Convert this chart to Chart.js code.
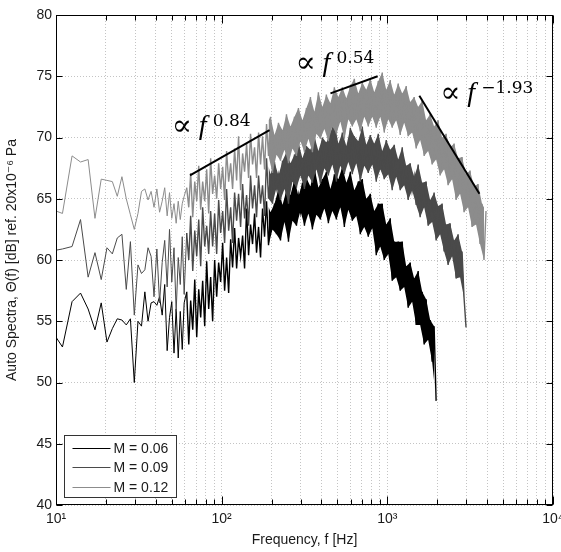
<!DOCTYPE html>
<html>
<head>
<meta charset="utf-8">
<script src="https://cdn.jsdelivr.net/npm/chart.js@4.4.1/dist/chart.umd.min.js"></script>
<style>
  html, body { margin: 0; padding: 0; background: #fff; }
</style>
</head>
<body>
<canvas id="spectraChart" width="561" height="552"></canvas>
<script>
/* global Chart */
// frequencies (Hz) of the low band, where single points are visible
const freqLow = [10, 10.94, 12.5, 14.06, 15.63, 17.19, 18.75, 20.31, 21.88, 23.44, 25.0, 26.56, 28.13, 29.69, 31.25, 32.81, 34.38,
  35.94, 37.5, 39.06, 40.63, 42.19, 43.75, 45.31, 46.88, 48.44, 50.0, 51.56, 53.13, 54.69, 56.25, 57.81, 59.38]
// frequencies (Hz) of the dense band above 60 Hz
const freqHigh = [61.5, 63.3, 65.0, 66.9, 68.8, 70.7, 72.7, 74.7, 76.8, 79.0,
  81.2, 83.5, 85.8, 88.2, 90.7, 93.3, 95.9, 98.6, 101.4, 104.2,
  107.1, 110.2, 113.3, 116.4, 119.7, 123.1, 126.5, 130.1, 133.8, 137.5,
  141.4, 145.4, 149.4, 153.6, 158.0, 162.4, 167.0, 171.7, 176.5, 181.5,
  186.6, 191.8, 197.2, 202.7, 208.4, 214.3, 220.3, 226.5, 232.9, 239.4,
  246.2, 253.1, 260.2, 267.5, 275.1, 282.8, 290.7, 298.9, 307.3, 316.0,
  324.8, 334.0, 343.4, 353.0, 362.9, 373.2, 383.6, 394.4, 405.5, 416.9,
  428.6, 440.7, 453.1, 465.8, 478.9, 492.4, 506.2, 520.5, 535.1, 550.2,
  565.6, 581.5, 597.9, 614.7, 632.0, 649.8, 668.0, 686.8, 706.1, 726.0,
  746.4, 767.4, 789.0, 811.1, 834.0, 857.4, 881.5, 906.3, 931.8, 958.0,
  984.9, 1013, 1041, 1070, 1101, 1131, 1163, 1196, 1230, 1264,
  1300, 1336, 1374, 1412, 1452, 1493, 1535, 1578, 1623, 1668,
  1715, 1763, 1813, 1864, 1916, 1970, 2026, 2083, 2141, 2201,
  2263, 2327, 2392, 2460, 2529, 2600, 2673, 2748, 2825, 2905,
  2986, 3070, 3157, 3246, 3337, 3431, 3527, 3626, 3728, 3833,
  3941]

// M = 0.06 (dB)
const m006Low = [53.7, 52.9, 56.6, 57.3, 56.0, 54.3, 56.5, 53.3, 54.4, 55.2, 55.1, 54.7, 55.2, 50.0, 55.0, 54.6, 57.4,
  55.0, 56.5, 56.6, 56.3, 57.0, 55.5, 58.0, 52.6, 55.3, 56.6, 52.4, 56.0, 52.0, 55.8, 52.7, 56.5]
const m006High = [57.4, 53.1, 56.7, 54.3, 58.4, 53.7, 57.6, 55.3, 58.3, 54.6,
  59.9, 56.0, 58.6, 55.0, 60.0, 57.0, 59.8, 58.2, 61.4, 57.5,
  60.2, 57.3, 61.7, 59.4, 62.6, 59.3, 61.8, 60.3, 62.0, 59.3,
  64.2, 60.4, 62.9, 61.3, 63.8, 60.6, 62.7, 60.2, 64.2, 61.9,
  64.8, 61.2, 63.9, 62.5, 64.6, 62.1, 65.8, 61.6, 64.5, 63.1,
  65.7, 61.5, 65.3, 63.2, 66.6, 62.8, 65.2, 64.0, 66.3, 62.8,
  66.7, 63.8, 66.0, 62.5, 67.6, 63.7, 65.9, 63.3, 66.6, 64.2,
  67.2, 63.0, 65.8, 64.0, 67.0, 63.3, 66.6, 64.3, 67.6, 62.7,
  66.3, 64.1, 67.2, 63.2, 65.7, 63.6, 66.4, 62.1, 66.6, 62.7,
  65.0, 61.9, 65.4, 62.6, 64.0, 60.4, 64.6, 61.1, 64.6, 60.0,
  62.9, 60.5, 63.4, 58.3, 61.5, 58.6, 61.5, 57.5, 61.5, 57.8,
  59.5, 56.1, 59.8, 56.6, 58.5, 54.7, 59.1, 54.7, 57.4, 53.1,
  56.8, 53.5, 55.1, 51.7, 54.6, 48.5]

// M = 0.09 (dB)
const m009Low = [60.8, 60.9, 61.1, 63.3, 58.6, 60.6, 58.4, 61.0, 60.5, 61.8, 62.1, 57.6, 61.5, 55.5, 59.6, 58.9, 59.2,
  61.0, 60.3, 57.0, 60.9, 56.5, 59.8, 61.6, 57.8, 62.5, 58.2, 61.0, 55.8, 60.2, 58.0, 61.9, 57.2]
const m009High = [62.2, 60.0, 63.6, 59.1, 62.4, 60.3, 63.3, 59.5, 64.3, 61.1,
  62.8, 60.5, 64.0, 61.1, 63.8, 60.5, 64.9, 62.2, 64.0, 61.4,
  65.8, 62.4, 64.3, 61.4, 65.5, 63.2, 65.4, 62.7, 66.2, 63.4,
  65.3, 62.8, 66.9, 64.2, 66.1, 63.5, 66.9, 64.6, 66.1, 63.6,
  68.3, 65.0, 67.0, 64.6, 68.0, 65.9, 66.9, 64.9, 68.1, 65.8,
  68.8, 64.6, 67.9, 66.4, 68.6, 65.9, 69.6, 66.9, 68.3, 65.8,
  69.3, 66.9, 69.0, 66.3, 70.1, 67.4, 68.9, 66.2, 70.0, 67.5,
  69.6, 66.9, 70.4, 67.8, 71.3, 66.4, 69.5, 67.7, 70.4, 67.0,
  69.3, 68.0, 70.8, 67.0, 70.1, 67.9, 69.7, 66.4, 70.9, 67.7,
  69.4, 67.1, 70.2, 67.8, 69.5, 66.4, 70.3, 67.4, 68.9, 66.6,
  69.8, 67.0, 69.0, 65.7, 69.4, 66.8, 68.2, 65.7, 69.2, 66.1,
  67.7, 64.9, 67.9, 65.7, 66.8, 64.5, 67.8, 63.5, 66.3, 64.3,
  66.4, 62.8, 64.9, 63.1, 65.5, 61.6, 64.4, 62.1, 64.6, 60.7,
  62.9, 59.6, 63.0, 60.3, 61.6, 58.5, 62.1, 58.6, 60.7, 56.9,
  54.5]

// M = 0.12 (dB)
const m012Low = [64.0, 63.8, 68.5, 68.0, 68.2, 63.4, 66.6, 66.5, 66.4, 65.2, 66.8, 65.0, 63.7, 62.5, 63.8, 65.6, 65.8,
  64.9, 65.6, 64.3, 65.8, 63.9, 64.8, 65.9, 63.6, 65.5, 63.4, 64.6, 63.0, 64.8, 63.3, 64.6, 65.2]
const m012High = [65.9, 64.3, 67.1, 63.5, 66.4, 64.8, 67.7, 64.1, 66.4, 64.8,
  67.4, 63.8, 68.3, 65.4, 66.9, 65.0, 67.9, 65.8, 67.6, 64.9,
  68.9, 66.4, 67.9, 65.8, 69.1, 66.5, 70.1, 65.7, 68.7, 67.2,
  69.5, 66.7, 70.3, 67.8, 69.2, 66.7, 70.4, 67.8, 70.1, 67.4,
  71.1, 68.5, 71.7, 67.1, 70.2, 68.6, 71.2, 68.1, 70.6, 69.0,
  71.9, 67.9, 70.9, 69.1, 71.7, 68.5, 72.4, 69.7, 71.4, 68.8,
  72.4, 69.9, 73.3, 68.8, 72.1, 70.3, 73.7, 69.9, 72.5, 70.7,
  73.5, 69.7, 72.8, 70.9, 74.1, 70.3, 73.3, 71.3, 74.1, 69.9,
  73.2, 71.5, 74.2, 70.9, 74.8, 71.5, 73.6, 70.5, 74.5, 71.7,
  73.9, 70.9, 74.8, 71.7, 73.7, 70.8, 74.6, 71.7, 75.3, 70.4,
  73.9, 71.5, 74.7, 70.8, 73.5, 71.4, 74.4, 70.2, 73.6, 71.2,
  74.2, 70.1, 72.9, 70.4, 73.3, 69.1, 72.5, 69.8, 73.0, 68.5,
  71.4, 68.9, 71.9, 67.8, 70.9, 68.2, 71.4, 66.9, 70.0, 67.4,
  70.3, 66.1, 69.2, 66.6, 69.5, 64.9, 68.3, 65.4, 68.4, 63.9,
  67.0, 64.3, 67.3, 62.7, 66.0, 62.9, 66.2, 61.3, 64.6, 60.0,
  64.0]

const seriesLabels = ['M = 0.06', 'M = 0.09', 'M = 0.12']
const seriesColors = ['#000000', '#4a4a4a', '#8c8c8c']
// first index of freqHigh from which the noise band is drawn solid
const bandStart = 40

// power law guide lines: end points (Hz, dB) and their labels
const fitFreq = [[64.4, 194.5], [453.6, 874], [1560, 3597]]
const fitDb = [[66.9, 70.6], [73.6, 75.0], [73.4, 65.4]]
const fitExponents = ['0.84', '0.54', '\u22121.93']
const fitLabelFreq = [51.4, 287, 2145]
const fitLabelDb = [70.3, 75.4, 73.0]

// axis ticks
const xGridTicks = [10, 20, 30, 40, 50, 60, 70, 80, 90, 100, 200, 300, 400, 500, 600, 700, 800, 900,
  1000, 2000, 3000, 4000, 5000, 6000, 7000, 8000, 9000, 10000]
const xMajorTicks = [10, 100, 1000, 10000]
const xTickLabels = ['10\u00b9', '10\u00b2', '10\u00b3', '10\u2074']

function toPoints (low, high) {
  const pts = freqLow.map((f, i) => ({ x: f, y: low[i] }))
  high.forEach((v, i) => pts.push({ x: freqHigh[i], y: v }))
  return pts
}

// upper (even) or lower (odd) edge points of the noisy band
function edgePoints (high, parity) {
  const pts = []
  high.forEach((v, i) => {
    if (i >= bandStart && i % 2 === parity) pts.push({ x: freqHigh[i], y: v })
  })
  return pts
}

const sansFont = "'Liberation Sans', 'DejaVu Sans', Arial, sans-serif"
const seriesLow = [m006Low, m009Low, m012Low]
const seriesHigh = [m006High, m009High, m012High]

const datasets = []
seriesLabels.forEach((label, s) => {
  datasets.push({
    label,
    data: toPoints(seriesLow[s], seriesHigh[s]),
    borderColor: seriesColors[s],
    borderWidth: 1,
    // the dense part above 60 Hz is drawn a little heavier
    segment: { borderWidth: c => (c.p0DataIndex >= freqLow.length ? 1.4 : 1) },
    pointRadius: 0,
    tension: 0,
    order: 3 - s
  })
  datasets.push({
    label: label + ' upper',
    data: edgePoints(seriesHigh[s], 0),
    borderWidth: 0,
    pointRadius: 0,
    fill: false,
    order: 3.5 - s
  })
  datasets.push({
    label: label + ' lower',
    data: edgePoints(seriesHigh[s], 1),
    borderWidth: 0,
    pointRadius: 0,
    backgroundColor: seriesColors[s],
    fill: '-1',
    order: 3.5 - s
  })
})

fitFreq.forEach((pair, i) => {
  datasets.push({
    label: 'fit ' + fitExponents[i],
    data: pair.map((f, j) => ({ x: f, y: fitDb[i][j] })),
    borderColor: '#000',
    borderWidth: 2,
    pointRadius: 0,
    order: 0
  })
})

// box, inside ticks, slope labels and legend
const framePlugin = {
  id: 'frame',
  afterDraw (chart) {
    const { ctx, chartArea: a, scales: { x, y } } = chart
    const left = Math.round(a.left) + 0.5
    const right = Math.round(a.right) - 0.5
    const top = Math.round(a.top) + 0.5
    const bottom = Math.round(a.bottom) - 0.5
    ctx.save()
    ctx.strokeStyle = '#000'
    ctx.lineWidth = 1
    ctx.beginPath()
    x.ticks.forEach(t => {
      const px = Math.round(x.getPixelForValue(t.value)) + 0.5
      const len = xMajorTicks.includes(t.value) ? 8 : 5
      ctx.moveTo(px, bottom); ctx.lineTo(px, bottom - len)
      ctx.moveTo(px, top); ctx.lineTo(px, top + len)
    })
    y.ticks.forEach(t => {
      const py = Math.round(y.getPixelForValue(t.value)) + 0.5
      ctx.moveTo(left, py); ctx.lineTo(left + 6, py)
      ctx.moveTo(right, py); ctx.lineTo(right - 6, py)
    })
    ctx.stroke()
    ctx.strokeRect(left, top, right - left, bottom - top)

    // slope labels
    ctx.fillStyle = '#000'
    ctx.textBaseline = 'alphabetic'
    fitExponents.forEach((e, i) => {
      const px = x.getPixelForValue(fitLabelFreq[i])
      const py = y.getPixelForValue(fitLabelDb[i])
      ctx.font = "30px 'DejaVu Serif', serif"
      ctx.fillText('\u221d', px - 2, py + 1)
      ctx.font = "italic 28px 'Liberation Serif', serif"
      ctx.fillText('f', px + 25, py)
      ctx.font = "17px 'DejaVu Serif', serif"
      ctx.fillText(e, px + 39, py - 8)
    })

    // legend
    const lx = left + 8
    const ly = bottom - 69
    ctx.fillStyle = '#fff'
    ctx.fillRect(lx, ly, 112, 62)
    ctx.strokeStyle = '#333'
    ctx.strokeRect(lx, ly, 112, 62)
    ctx.font = '14px ' + sansFont
    ctx.textBaseline = 'middle'
    seriesLabels.forEach((lab, i) => {
      const rowY = Math.round(ly + 12 + i * 19.5) + 0.5
      ctx.strokeStyle = seriesColors[i]
      ctx.beginPath()
      ctx.moveTo(lx + 8, rowY)
      ctx.lineTo(lx + 46, rowY)
      ctx.stroke()
      ctx.fillStyle = '#1a1a1a'
      ctx.fillText(lab, lx + 49, rowY + 1)
    })
    ctx.restore()
  }
}

const ctx = document.getElementById('spectraChart').getContext('2d')
const spectraChart = new Chart(ctx, {
  type: 'line',
  data: { datasets },
  options: {
    responsive: false,
    animation: false,
    devicePixelRatio: 1,
    layout: { padding: { top: 15, right: 8, left: 0, bottom: 0 } },
    plugins: { legend: { display: false }, tooltip: { enabled: false } },
    scales: {
      x: {
        type: 'logarithmic',
        min: 10,
        max: 10000,
        afterBuildTicks: scale => {
          scale.ticks = xGridTicks.map(v => ({ value: v, major: xMajorTicks.includes(v) }))
        },
        afterFit: scale => {
          scale.height = 47
          scale.paddingRight = 8
        },
        grid: { color: '#c4c4c4', drawTicks: false, lineWidth: 1 },
        border: { display: false, dash: [1, 2] },
        ticks: {
          autoSkip: false,
          maxRotation: 0,
          padding: 6,
          color: '#1a1a1a',
          font: { family: sansFont, size: 14 },
          callback: value => {
            const k = xMajorTicks.indexOf(value)
            return k >= 0 ? xTickLabels[k] : ''
          }
        },
        title: {
          display: true,
          text: 'Frequency, f [Hz]',
          color: '#1a1a1a',
          font: { family: sansFont, size: 14 },
          padding: { top: 0, bottom: 3 }
        }
      },
      y: {
        min: 40,
        max: 80,
        afterFit: scale => { scale.width = 56 },
        grid: { color: '#c4c4c4', drawTicks: false, lineWidth: 1 },
        border: { display: false, dash: [1, 2] },
        ticks: {
          stepSize: 5,
          padding: 4,
          color: '#1a1a1a',
          font: { family: sansFont, size: 14 }
        },
        title: {
          display: true,
          text: 'Auto Spectra, \u0398(f) [dB] ref. 20x10\u207b\u2076 Pa',
          color: '#1a1a1a',
          font: { family: sansFont, size: 14 },
          padding: { top: 4, bottom: 0 }
        }
      }
    }
  },
  plugins: [framePlugin]
})
</script>
</body>
</html>
